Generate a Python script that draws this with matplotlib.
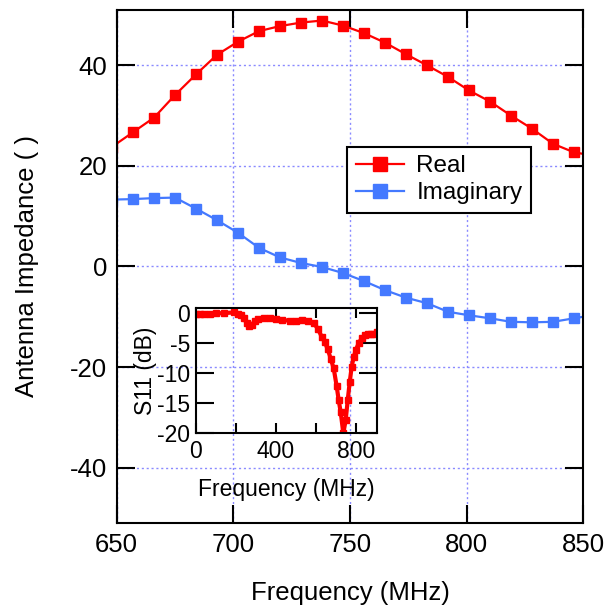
import matplotlib
matplotlib.use("Agg")
import matplotlib.pyplot as plt

plt.rcParams['font.family'] = ['Liberation Sans', 'DejaVu Sans']
plt.rcParams['axes.unicode_minus'] = False

# impedancia da antena (MHz, ohm)
freq = [648, 657, 666, 675, 684, 693, 702, 711, 720, 729, 738, 747,
        756, 765, 774, 783, 792, 801, 810, 819, 828, 837, 846, 855]
real = [23.8, 26.7, 29.6, 34.1, 38.2, 42.1, 44.7, 46.8, 47.8, 48.5, 48.9, 47.9,
        46.4, 44.5, 42.2, 40.0, 37.7, 35.0, 32.8, 30.0, 27.4, 24.4, 22.7, 22.0]
imag = [13.3, 13.4, 13.6, 13.7, 11.5, 9.2, 6.7, 3.7, 1.8, 0.7, -0.1, -1.3,
        -2.9, -4.7, -6.2, -7.3, -9.0, -9.7, -10.3, -11.0, -11.1, -11.0, -10.3, -9.6]

# S11 (inset)
s11_freq = [0, 20, 40, 70, 100, 140, 190, 210, 225, 240, 255, 268, 280, 295,
            310, 340, 370, 400, 430, 470, 500, 530, 560, 590, 610, 630, 645,
            660, 675, 690, 705, 715, 725, 738, 750, 760, 770, 780, 790, 800,
            815, 830, 845, 860, 875, 890, 905]
s11_db = [-0.1, -0.1, -0.1, -0.1, -0.05, 0.0, 0.1, -0.1, -0.4, -0.9, -1.6, -2.2,
          -1.9, -1.4, -1.0, -0.8, -0.9, -1.0, -1.1, -1.3, -1.3, -1.2, -1.3, -1.6,
          -2.6, -3.9, -4.8, -6.0, -7.6, -9.2, -12.2, -14.5, -16.5, -20.0, -17.8,
          -14.5, -11.5, -8.9, -7.3, -6.2, -5.0, -4.2, -3.7, -3.5, -3.5, -3.4, -3.2]

red = '#ff0000'
blue = '#4479ff'
grid_color = '#8a8aff'
fs = 18.5
fs_in = 16.5

fig = plt.figure(figsize=(6.07, 6.09), dpi=100)
ax = fig.add_axes([0.1923, 0.1412, 0.7687, 0.8424])

ax.plot(freq, real, color=red, lw=1.6, marker='s', ms=7, label='Real')
ax.plot(freq, imag, color=blue, lw=1.6, marker='s', ms=7, label='Imaginary')

ax.set_xlim(650, 850)
ax.set_ylim(-51, 51)
ax.set_xticks([650, 700, 750, 800, 850])
ax.set_yticks([-40, -20, 0, 20, 40])
ax.grid(True, color=grid_color, ls=(0, (1.5, 2)), lw=1)
ax.tick_params(direction='in', length=13, width=1.5, top=True, right=True,
               labelsize=fs, pad=7)
for s in ax.spines.values():
    s.set_linewidth(1.5)
ax.set_xlabel('Frequency (MHz)', fontsize=fs)
ax.set_ylabel('Antenna Impedance ( )', fontsize=fs)
ax.xaxis.set_label_coords(0.5, -0.113)
ax.yaxis.set_label_coords(-0.166, 0.5)

leg = ax.legend(loc='upper left', bbox_to_anchor=(0.4936, 0.733),
                borderaxespad=0, fontsize=17.5, markerscale=1.4,
                fancybox=False, framealpha=1, edgecolor='black',
                handlelength=2.0, handletextpad=0.5, borderpad=0.35,
                labelspacing=0.2)
leg.get_frame().set_linewidth(1.5)

# inset
ax_in = fig.add_axes([0.3224, 0.2885, 0.2982, 0.2053])
ax_in.set_facecolor('none')
ax_in.plot(s11_freq, s11_db, color=red, lw=3, marker='s', ms=4)
ax_in.set_xlim(0, 905)
ax_in.set_ylim(-20, 0.8)
ax_in.set_xticks([0, 200, 400, 600, 800])
ax_in.set_xticklabels(['0', '', '400', '', '800'])
ax_in.set_yticks([-20, -15, -10, -5, 0])
ax_in.tick_params(axis='x', direction='in', length=7, width=1.5,
                  top=True, labelsize=fs_in, pad=5)
ax_in.tick_params(axis='y', direction='in', length=13, width=1.5,
                  right=True, labelsize=fs_in, pad=4)
for s in ax_in.spines.values():
    s.set_linewidth(1.5)
ax_in.set_xlabel('Frequency (MHz)', fontsize=fs_in)
ax_in.set_ylabel('S11 (dB)', fontsize=fs_in)
ax_in.xaxis.set_label_coords(0.5, -0.36)
ax_in.yaxis.set_label_coords(-0.215, 0.5)

fig.savefig('out.png', dpi=100)
